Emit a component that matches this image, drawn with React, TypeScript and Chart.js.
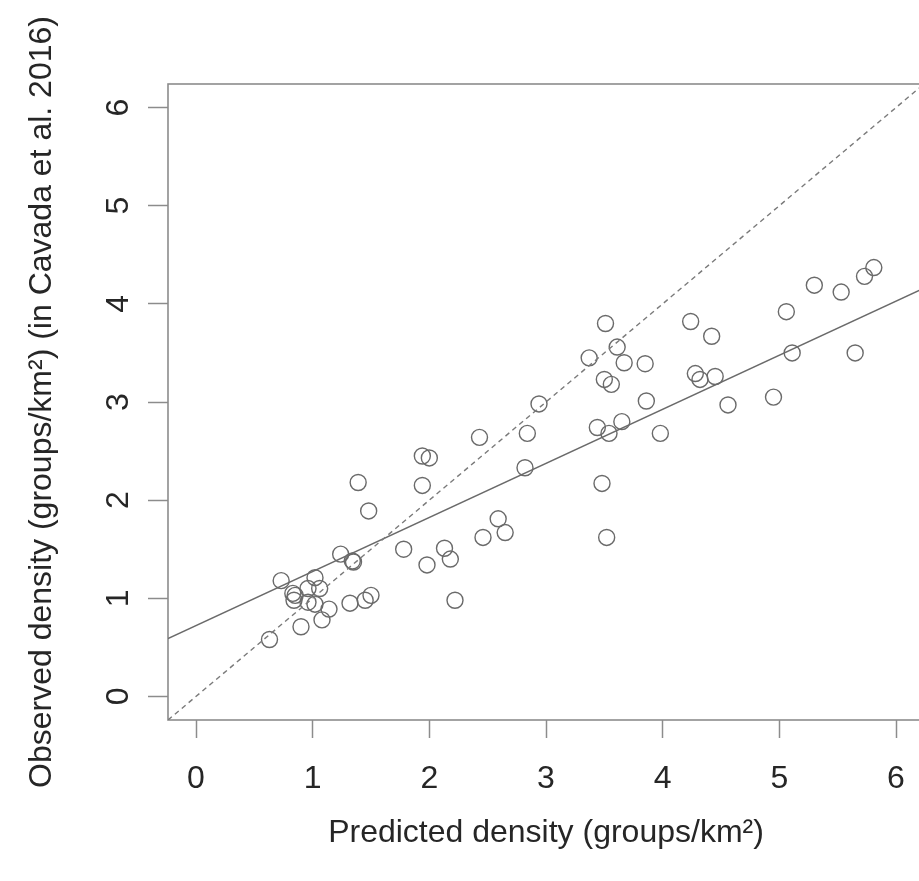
import React, { useEffect, useRef } from "react";
import { Chart, registerables } from "chart.js";

Chart.register(...registerables);

// Predicted density (x) and observed density (y) for each site
const predicted = [
  0.63, 0.73, 0.83, 0.84, 0.85, 0.90, 0.96, 1.02, 1.06, 0.96,
  1.02, 1.08, 1.14, 1.24, 1.34, 1.35, 1.32, 1.39, 1.45, 1.50,
  1.48, 1.78, 1.94, 2.00, 1.94, 1.98, 2.13, 2.18, 2.22, 2.43,
  2.46, 2.59, 2.65, 2.84, 2.82, 2.94, 3.37, 3.51, 3.61, 3.67,
  3.85, 3.50, 3.56, 3.86, 3.44, 3.54, 3.65, 3.98, 3.48, 3.52,
  4.24, 4.28, 4.32, 4.42, 4.45, 4.56, 4.95, 5.06, 5.11, 5.30,
  5.53, 5.65, 5.73, 5.81,
];
const observed = [
  0.58, 1.18, 1.05, 0.98, 1.03, 0.71, 1.10, 1.21, 1.10, 0.96,
  0.94, 0.78, 0.89, 1.45, 1.38, 1.37, 0.95, 2.18, 0.98, 1.03,
  1.89, 1.50, 2.45, 2.43, 2.15, 1.34, 1.51, 1.40, 0.98, 2.64,
  1.62, 1.81, 1.67, 2.68, 2.33, 2.98, 3.45, 3.80, 3.56, 3.40,
  3.39, 3.23, 3.18, 3.01, 2.74, 2.68, 2.80, 2.68, 2.17, 1.62,
  3.82, 3.29, 3.23, 3.67, 3.26, 2.97, 3.05, 3.92, 3.50, 4.19,
  4.12, 3.50, 4.28, 4.37,
];

const axisTicks = [0, 1, 2, 3, 4, 5, 6];
const axisMin = -0.24;
const axisMax = 6.24;

// regression line (solid) end points
const fitLineX = [-0.24, 6.24];
const fitLineY = [0.59, 4.16];
// 1:1 line (dashed) end points
const identityX = [-0.24, 6.24];
const identityY = [-0.24, 6.24];

const xTitle = "Predicted density (groups/km²)";
const yTitle = "Observed density (groups/km²) (in Cavada et al. 2016)";

const FONT = "'Liberation Sans', Arial, Helvetica, sans-serif";

const boxPlugin = {
  id: "plotBox",
  beforeDatasetsDraw(chart: any) {
    const { ctx, chartArea } = chart;
    const { left, top, right, bottom } = chartArea;
    ctx.save();
    ctx.strokeStyle = "#8c8c8c";
    ctx.lineWidth = 1.6;
    ctx.strokeRect(left, top, right - left, bottom - top);
    ctx.restore();
  },
};

export default function App() {
  const canvasRef = useRef<HTMLCanvasElement | null>(null);

  useEffect(() => {
    if (!canvasRef.current) return;
    const points = predicted.map((x, i) => ({ x, y: observed[i] }));
    const fit = fitLineX.map((x, i) => ({ x, y: fitLineY[i] }));
    const ident = identityX.map((x, i) => ({ x, y: identityY[i] }));

    const tickFont = { family: FONT, size: 32 };
    const titleFont = { family: FONT, size: 32 };

    const chart = new Chart(canvasRef.current, {
      type: "scatter",
      data: {
        datasets: [
          {
            label: "1:1",
            data: ident,
            showLine: true,
            borderColor: "#7a7a7a",
            borderWidth: 1.4,
            borderDash: [5, 4],
            pointRadius: 0,
            fill: false,
          },
          {
            label: "fit",
            data: fit,
            showLine: true,
            borderColor: "#6a6a6a",
            borderWidth: 1.4,
            pointRadius: 0,
            fill: false,
          },
          {
            label: "sites",
            data: points,
            showLine: false,
            pointStyle: "circle",
            pointRadius: 8,
            pointBorderWidth: 1.4,
            pointBorderColor: "#6a6a6a",
            pointBackgroundColor: "rgba(0,0,0,0)",
            borderColor: "#6a6a6a",
            backgroundColor: "rgba(0,0,0,0)",
          },
        ],
      },
      options: {
        animation: false,
        responsive: false,
        maintainAspectRatio: false,
        layout: { padding: { top: 84, right: 16, left: 0, bottom: 0 } },
        plugins: {
          legend: { display: false },
          tooltip: { enabled: false },
        },
        scales: {
          x: {
            type: "linear",
            min: axisMin,
            max: axisMax,
            afterBuildTicks: (s: any) => {
              s.ticks = axisTicks.map((value) => ({ value }));
            },
            afterFit: (s: any) => {
              s.height = 161;
            },
            grid: {
              drawOnChartArea: false,
              drawTicks: true,
              tickLength: 18,
              tickColor: "#8c8c8c",
              tickWidth: 1.5,
            },
            border: { display: false },
            ticks: {
              font: tickFont,
              color: "#262626",
              padding: 22,
              maxRotation: 0,
              autoSkip: false,
              callback: (v: any) => String(v),
            },
            title: {
              display: true,
              text: xTitle,
              font: titleFont,
              color: "#262626",
              padding: { top: 0, bottom: 29 },
            },
          },
          y: {
            type: "linear",
            min: axisMin,
            max: axisMax,
            afterBuildTicks: (s: any) => {
              s.ticks = axisTicks.map((value) => ({ value }));
            },
            afterFit: (s: any) => {
              s.width = 168;
            },
            grid: {
              drawOnChartArea: false,
              drawTicks: true,
              tickLength: 20,
              tickColor: "#8c8c8c",
              tickWidth: 1.5,
            },
            border: { display: false },
            ticks: {
              font: tickFont,
              color: "#262626",
              padding: 20,
              minRotation: 90,
              maxRotation: 90,
              crossAlign: "center",
              autoSkip: false,
              callback: (v: any) => String(v),
            },
            title: {
              display: true,
              text: yTitle,
              font: titleFont,
              color: "#262626",
              padding: { top: 23, bottom: 0 },
            },
          },
        },
      },
      plugins: [boxPlugin],
    } as any);

    return () => chart.destroy();
  }, []);

  return (
    <div
      style={{
        position: "fixed",
        left: 0,
        top: 0,
        width: 919,
        height: 881,
        overflow: "hidden",
        background: "#ffffff",
      }}
    >
      <canvas
        ref={canvasRef}
        width={940}
        height={881}
        style={{ display: "block", width: 940, height: 881 }}
      />
    </div>
  );
}
